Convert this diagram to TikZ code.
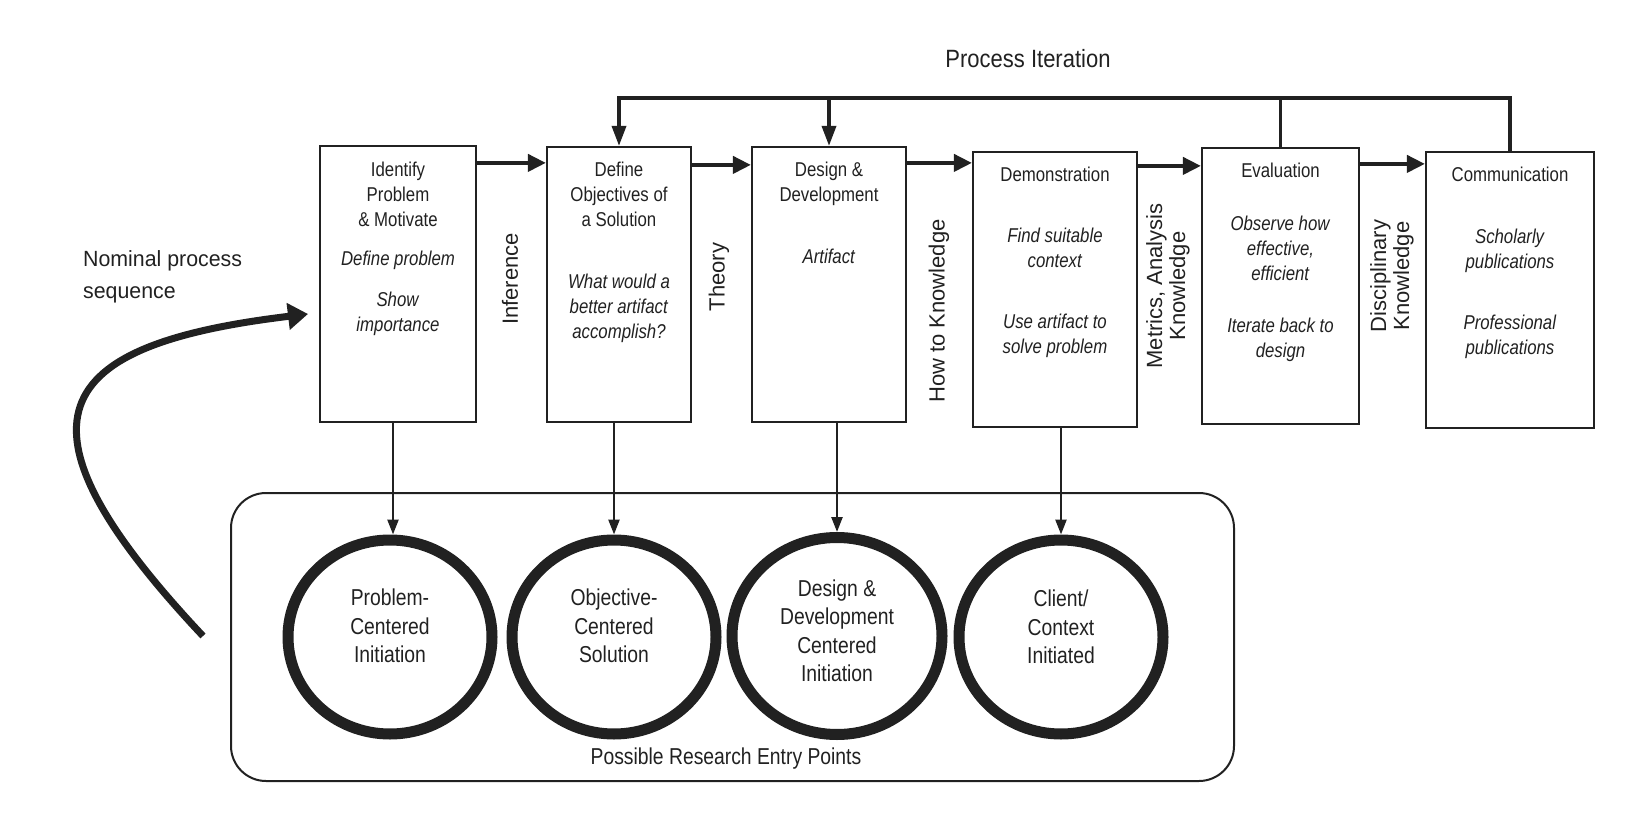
\documentclass[tikz,border=0pt]{standalone}
\usepackage{fontspec}
\setmainfont{Liberation Sans}
\newfontfamily\cond[FakeStretch=0.84]{Liberation Sans}
\newfontfamily\midcond[FakeStretch=0.88]{Liberation Sans}
\newfontfamily\slcond[FakeStretch=0.97]{Liberation Sans}
\usetikzlibrary{arrows.meta,shapes.geometric,calc}
\definecolor{ink}{gray}{0.13}
\begin{document}
\begin{tikzpicture}[x=1pt,y=-1pt,
  box/.style={draw=ink, line width=2.2pt, inner sep=0pt},
  btxt/.style={font=\cond\fontsize{20}{25}\selectfont, align=center, anchor=north, inner sep=0pt, text=ink},
  flow/.style={draw=ink, line width=4pt, -{Triangle[length=18pt,width=17pt]}},
  iter/.style={draw=ink, line width=3.5pt},
  iterarr/.style={iter, -{Triangle[length=20pt,width=14pt]}},
  down/.style={draw=ink, line width=2.5pt, -{Triangle[length=15pt,width=11pt]}},
  side/.style={rotate=90, font=\fontsize{22}{23}\selectfont, align=center, inner sep=0pt, text=ink},
  entry/.style={ellipse, draw=ink, line width=11pt, inner sep=0pt},
  ctxt/.style={font=\cond\fontsize{23}{28.5}\selectfont, align=center, inner sep=0pt, text=ink},
  curvearr/.style={draw=ink, line width=7pt, -{Triangle[length=20pt,width=26pt]}}
]
\useasboundingbox (0,0) rectangle (1638,834);

% process boxes
\node[box, minimum width=156pt, minimum height=276pt] (b1) at (398,284) {};
\node[box, minimum width=144pt, minimum height=275pt] (b2) at (619,284.5) {};
\node[box, minimum width=154pt, minimum height=275pt] (b3) at (829,284.5) {};
\node[box, minimum width=164pt, minimum height=275pt] (b4) at (1055,289.5) {};
\node[box, minimum width=157pt, minimum height=276pt] (b5) at (1280.5,286) {};
\node[box, minimum width=168pt, minimum height=276pt] (b6) at (1510,290) {};

% box texts
\node[btxt] (t1) at (398,162) {Identify\\Problem\\\& Motivate\\[14pt]\textit{Define problem}\\[16pt]\textit{Show}\\\textit{importance}};
\node[btxt] (t2) at (619,162) {Define\\Objectives of\\a Solution\\[37pt]\textit{What would a}\\\textit{better artifact}\\\textit{accomplish?}};
\node[btxt] (t3) at (829,162) {Design \&\\Development\\[37pt]\textit{Artifact}};
\node[btxt] (t4) at (1055,167) {Demonstration\\[36pt]\textit{Find suitable}\\\textit{context}\\[36pt]\textit{Use artifact to}\\\textit{solve problem}};
\node[btxt] (t5) at (1280.5,163) {Evaluation\\[28pt]\textit{Observe how}\\\textit{effective,}\\\textit{efficient}\\[27pt]\textit{Iterate back to}\\\textit{design}};
\node[btxt] (t6) at (1510,167) {Communication\\[37pt]\textit{Scholarly}\\\textit{publications}\\[36pt]\textit{Professional}\\\textit{publications}};

% side labels
\node[side] (l1) at (510,279) {Inference};
\node[side] (l2) at (719,277) {Theory};
\node[side] (l3) at (939,311) {How to Knowledge};
\node[side] (l4) at (1168,286) {Metrics, Analysis\\Knowledge};
\node[side] (l5) at (1392,276) {Disciplinary\\Knowledge};

% flow arrows
\coordinate (h1) at ($(b1.north east)+(0,18)$);
\coordinate (h2) at ($(b2.north east)+(0,19)$);
\coordinate (h3) at ($(b3.north east)+(0,17)$);
\coordinate (h4) at ($(b4.north east)+(0,15)$);
\coordinate (h5) at ($(b5.north east)+(0,17)$);
\draw[flow] (h1) -- (h1 -| b2.west);
\draw[flow] (h2) -- (h2 -| b3.west);
\draw[flow] (h3) -- (h3 -| b4.west);
\draw[flow] (h4) -- (h4 -| b5.west);
\draw[flow] (h5) -- (h5 -| b6.west);

% process iteration
\node[font=\midcond\fontsize{25}{30}\selectfont, text=ink, inner sep=0pt] (pi) at (1028,59) {Process Iteration};
\coordinate (itop) at (0,98);
\draw[iterarr] (b6.north) -- (b6.north |- itop) -- (b2.north |- itop) -- (b2.north);
\draw[iterarr] (b3.north |- itop) -- (b3.north);
\draw[iter] (b5.north) -- (b5.north |- itop);

% entry points frame
\node[draw=ink, line width=2pt, rounded corners=35pt, minimum width=1003pt, minimum height=288pt] (frame) at (732.5,637) {};
\node[ctxt] (pe) at (726,759) {Possible Research Entry Points};

\node[entry, minimum width=204pt, minimum height=194pt] (c1) at (390,637) {};
\node[entry, minimum width=204pt, minimum height=194pt] (c2) at (614,637) {};
\node[entry, minimum width=210pt, minimum height=197pt] (c3) at (837,636) {};
\node[entry, minimum width=204pt, minimum height=194pt] (c4) at (1061,637) {};
\node[ctxt] (ct1) at (390,626) {Problem-\\Centered\\Initiation};
\node[ctxt] (ct2) at (614,626) {Objective-\\Centered\\Solution};
\node[ctxt] (ct3) at (837,631) {Design \&\\Development\\Centered\\Initiation};
\node[ctxt] (ct4) at (1061,627) {Client/\\Context\\Initiated};

\draw[down] ([xshift=3pt]c1.north |- b1.south) -- ([xshift=3pt]c1.north);
\draw[down] (c2.north |- b2.south) -- (c2.north);
\draw[down] (c3.north |- b3.south) -- (c3.north);
\draw[down] (c4.north |- b4.south) -- (c4.north);

% nominal process sequence
\node[font=\slcond\fontsize{22}{32}\selectfont, align=left, anchor=north west, inner sep=0pt, text=ink] (nom) at (83,250) {Nominal process\\sequence};
\coordinate (cs) at (203,636);
\coordinate (ce) at (308,314);
\draw[curvearr] (cs) .. controls (0,420) and (50,345) .. (ce);
\end{tikzpicture}
\end{document}
